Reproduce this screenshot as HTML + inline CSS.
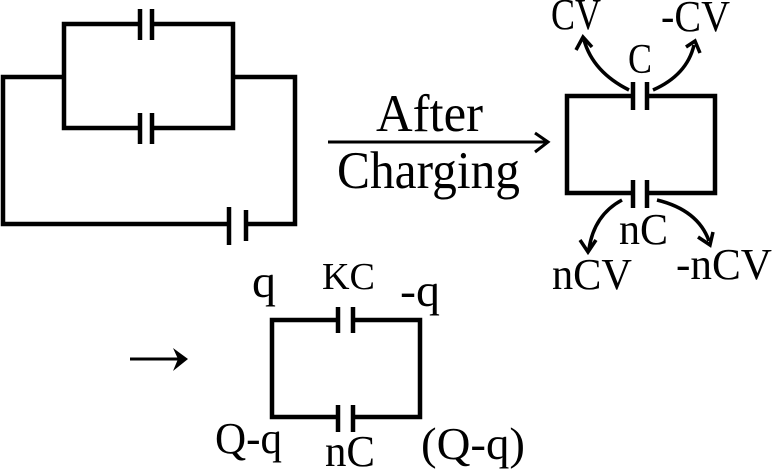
<!DOCTYPE html>
<html><head><meta charset="utf-8"><style>
html,body{margin:0;padding:0;background:#fff;}
svg{display:block;}
text{font-family:"Liberation Serif","Times New Roman",serif;fill:#000;}
</style></head><body>
<svg width="773" height="469" viewBox="0 0 773 469" xmlns="http://www.w3.org/2000/svg">
<g fill="none" stroke="#000" stroke-width="4.5" stroke-linecap="butt">
<polyline points="140,24 64,24 64,128 140,128"/>
<polyline points="152,24 233,24 233,128 152,128"/>
<line x1="140" y1="9" x2="140" y2="40"/><line x1="152" y1="9" x2="152" y2="40"/>
<line x1="140" y1="113" x2="140" y2="144"/><line x1="152" y1="113" x2="152" y2="144"/>
<polyline points="64,77 3,77 3,224 229,224"/>
<polyline points="233,77 295,77 295,224 246,224"/>
<line x1="229" y1="207" x2="229" y2="245"/><line x1="246" y1="210" x2="246" y2="241"/>
<line x1="328" y1="142" x2="546" y2="142" stroke-width="3"/>
<polyline points="535,133 548,142 535,152" stroke-width="3"/>
<polyline points="633,96 567,96 567,193 633,193"/>
<polyline points="647,96 715,96 715,193 647,193"/>
<line x1="633" y1="82" x2="633" y2="110"/><line x1="647" y1="82" x2="647" y2="110"/>
<line x1="633" y1="180" x2="633" y2="208"/><line x1="647" y1="180" x2="647" y2="208"/>
<path d="M629,90 Q593,72 584,40" stroke-width="3.5"/>
<polyline points="576,50 583,37 592,47" stroke-width="3.5"/>
<path d="M653,90 Q687,75 694,45" stroke-width="3.5"/>
<polyline points="686,47 695,41 700,53" stroke-width="3.5"/>
<path d="M622,200 Q594,215 589,249" stroke-width="3.5"/>
<polyline points="580,240 588,252 596,240" stroke-width="3.5"/>
<path d="M657,200 Q698,210 709,241" stroke-width="3.5"/>
<polyline points="698,237 710,245 713,232" stroke-width="3.5"/>
<polyline points="338,320 272,320 272,417 338,417"/>
<polyline points="353,320 420,320 420,417 353,417"/>
<line x1="338" y1="307" x2="338" y2="333"/><line x1="353" y1="307" x2="353" y2="333"/>
<line x1="338" y1="405" x2="338" y2="432"/><line x1="353" y1="405" x2="353" y2="432"/>
<line x1="130" y1="359" x2="178" y2="359" stroke-width="3"/>
</g>
<polygon points="173,348 188,359 173,371 178,359" fill="#000"/>
<text x="376" y="131" font-size="53" textLength="107" lengthAdjust="spacingAndGlyphs">After</text>
<text x="337" y="188" font-size="53" textLength="183" lengthAdjust="spacingAndGlyphs">Charging</text>
<text x="551" y="29" font-size="44" textLength="50" lengthAdjust="spacingAndGlyphs">CV</text>
<text x="661" y="31" font-size="44" textLength="69" lengthAdjust="spacingAndGlyphs">-CV</text>
<text x="628" y="73" font-size="42" textLength="24" lengthAdjust="spacingAndGlyphs">C</text>
<text x="619" y="244" font-size="44" textLength="49" lengthAdjust="spacingAndGlyphs">nC</text>
<text x="552" y="289" font-size="44" textLength="80" lengthAdjust="spacingAndGlyphs">nCV</text>
<text x="676" y="279" font-size="44" textLength="96" lengthAdjust="spacingAndGlyphs">-nCV</text>
<text x="252" y="297" font-size="46" textLength="24" lengthAdjust="spacingAndGlyphs">q</text>
<text x="322" y="289" font-size="38" textLength="53" lengthAdjust="spacingAndGlyphs">KC</text>
<text x="400" y="306" font-size="46" textLength="40" lengthAdjust="spacingAndGlyphs">-q</text>
<text x="215" y="453" font-size="44" textLength="67" lengthAdjust="spacingAndGlyphs">Q-q</text>
<text x="325" y="466" font-size="44" textLength="50" lengthAdjust="spacingAndGlyphs">nC</text>
<text x="421" y="459" font-size="46" textLength="104" lengthAdjust="spacingAndGlyphs">(Q-q)</text>
</svg>
</body></html>
